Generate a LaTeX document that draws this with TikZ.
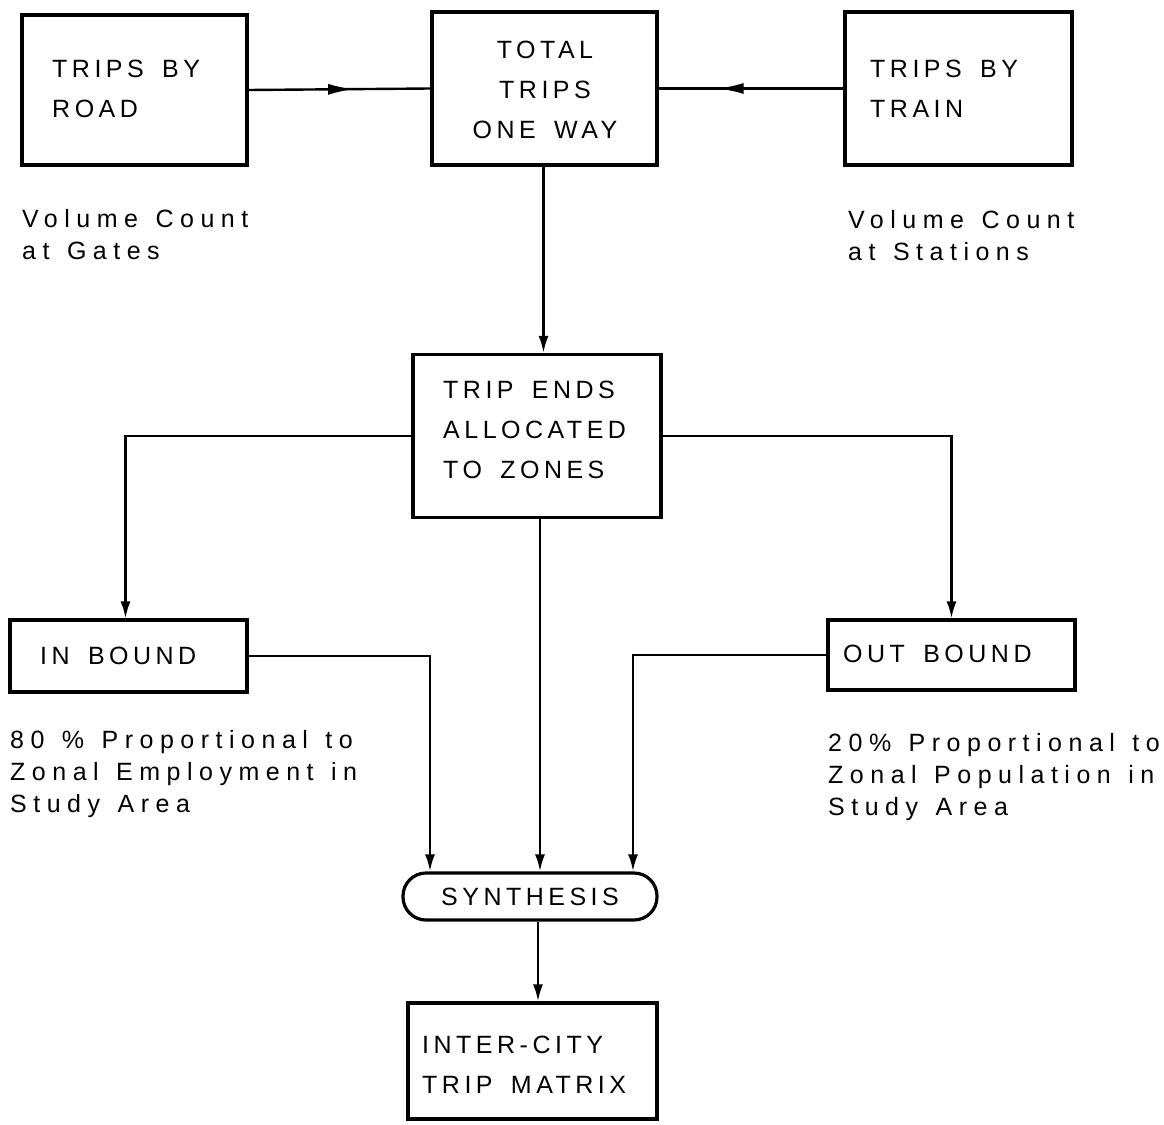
\documentclass[tikz,border=0pt]{standalone}
\usepackage{fontspec}
\setmainfont{Liberation Sans}[LetterSpace=18,WordSpace=1.6]
\newfontfamily\notefont{Liberation Sans}[LetterSpace=26,WordSpace=1.3]
\usetikzlibrary{arrows.meta,decorations.markings}
\begin{document}
\begin{tikzpicture}[x=1pt,y=-1pt,
  box/.style={draw,line width=3.2pt,inner sep=0pt},
  conn/.style={line width=2.4pt},
  arr/.style={conn,-{Latex[length=17pt,width=10pt]}},
  midarr/.style={conn,postaction={decorate},decoration={markings,mark=at position #1 with {\arrow{Latex[length=26pt,width=11pt]}}}},
  boxtxt/.style={inner sep=0pt,align=left,font=\fontsize{25}{40}\selectfont},
  ctrtxt/.style={inner sep=0pt,align=center,font=\fontsize{25}{40}\selectfont},
  note/.style={inner sep=0pt,align=left,font=\notefont\fontsize{25}{32}\selectfont}]
\useasboundingbox (0,0) rectangle (1164,1124);
\fill[white] (0,0) rectangle (1164,1124);
% boxes
\node[box,minimum width=225pt,minimum height=150pt] (road) at (134.5,90) {};
\node[box,minimum width=225pt,minimum height=153pt] (total) at (544.5,88.5) {};
\node[box,minimum width=227pt,minimum height=153pt] (train) at (958.5,88.5) {};
\node[box,minimum width=248pt,minimum height=163pt] (ends) at (537,436) {};
\node[box,minimum width=237pt,minimum height=72pt] (inb) at (128.5,656) {};
\node[box,minimum width=247pt,minimum height=70pt] (outb) at (951.5,655) {};
\node[box,minimum width=254pt,minimum height=47pt,rounded corners=23pt] (synth) at (530,896.5) {};
\node[box,minimum width=249pt,minimum height=116pt] (matrix) at (532.5,1061) {};
% texts
\node[boxtxt,anchor=west] (troad) at (52,89) {TRIPS BY\\ROAD};
\node[ctrtxt] (ttotal) at (545,90) {TOTAL\\TRIPS\\ONE WAY};
\node[boxtxt,anchor=west] (ttrain) at (870,89) {TRIPS BY\\TRAIN};
\node[note,anchor=west] (ngates) at (22,235) {Volume Count\\at Gates};
\node[note,anchor=west] (nstat) at (848,236) {Volume Count\\at Stations};
\node[boxtxt,anchor=west] (tends) at (443,430) {TRIP ENDS\\ALLOCATED\\TO ZONES};
\node[boxtxt,anchor=west] (tinb) at (40,656) {IN BOUND};
\node[boxtxt,anchor=west] (toutb) at (843,654) {OUT BOUND};
\node[note,anchor=west] (nin) at (10,774) {80 \% Proportional to\\Zonal Employment in\\Study Area};
\node[note,anchor=west] (nout) at (828,777) {20\% Proportional to\\Zonal Population in\\Study Area};
\node[ctrtxt] (tsynth) at (530,897) {SYNTHESIS};
\node[boxtxt,anchor=west] (tmatrix) at (422,1065) {INTER-CITY\\TRIP MATRIX};
% connectors
\draw[midarr=0.58] (road.east) -- (total.west);
\draw[midarr=0.68] (train.west) -- (total.east);
\draw[arr] ([xshift=-1pt]total.south) -- ([xshift=-1pt]total.south |- ends.north);
\draw[arr] (ends.west) -| ([xshift=-3pt]inb.north);
\draw[arr] (ends.east) -| (outb.north);
\draw[arr] ([xshift=3pt]ends.south) -- ([xshift=3pt]ends.south |- synth.north);
\draw[arr] (inb.east) -| ([xshift=-100pt]synth.north);
\draw[arr] (outb.west) -| ([xshift=103pt]synth.north);
\draw[arr] ([xshift=8pt]synth.south) -- ([xshift=8pt]synth.south |- matrix.north);
\end{tikzpicture}
\end{document}
